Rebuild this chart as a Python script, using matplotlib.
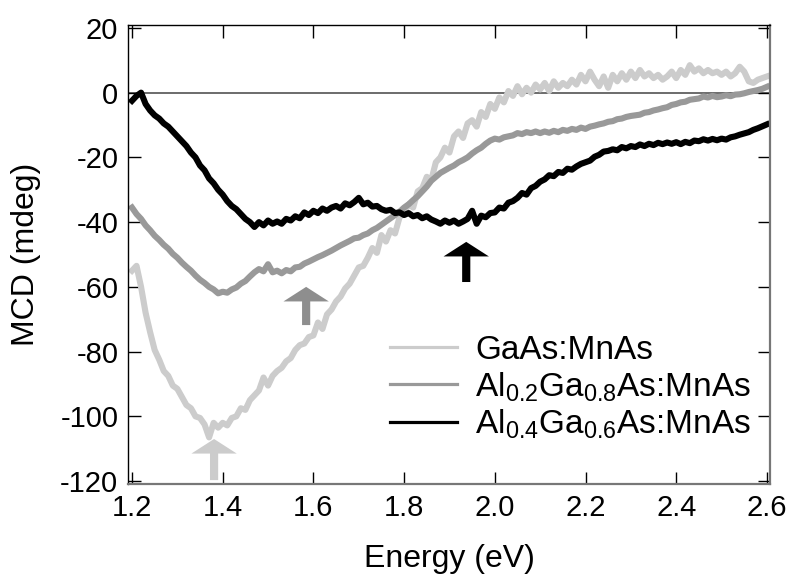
import numpy as np
import matplotlib.pyplot as plt
from matplotlib.lines import Line2D

plt.rcParams['font.family'] = ['Liberation Sans', 'DejaVu Sans']
plt.rcParams['mathtext.fontset'] = 'custom'
plt.rcParams['mathtext.rm'] = 'Liberation Sans'
plt.rcParams['axes.unicode_minus'] = False

# photon energy grid (eV), 0.01 eV step
energy = np.linspace(1.2, 2.6, 141)

# MCD spectra (mdeg)
mcd_gaas = [
    -55.0, -53.5, -60.0, -68.0, -74.0, -79.5, -82.5, -86.0, -87.5, -90.5,
    -91.5, -94.0, -96.5, -97.5, -100.0, -100.5, -102.5, -106.5, -102.0, -103.5,
    -102.0, -102.8, -100.5, -100.0, -97.5, -98.0, -95.0, -93.5, -92.0, -88.0,
    -90.5, -87.5, -86.0, -85.0, -83.0, -82.0, -79.5, -78.0, -77.5, -75.5,
    -75.0, -71.0, -73.0, -68.5, -67.0, -64.5, -63.0, -60.5, -59.0, -56.5,
    -54.0, -53.5, -51.0, -48.0, -49.5, -44.0, -46.0, -42.5, -43.5, -38.5,
    -37.0, -34.5, -35.5, -30.5, -29.5, -26.0, -27.0, -21.5, -20.0, -17.0,
    -18.5, -13.5, -12.0, -14.0, -9.5, -8.5, -10.5, -6.0, -7.5, -3.5,
    -5.0, -1.5, -3.0, 0.5, -1.0, 2.0, -0.5, 1.5, 0.0, 2.5,
    1.0, 3.0, 0.5, 3.5, 1.5, 3.0, 2.0, 4.0, 2.5, 5.5,
    3.5, 6.5, 4.0, 2.0, 5.0, 1.5, 5.5, 3.5, 6.0, 4.0,
    6.5, 4.5, 7.0, 5.0, 6.0, 4.5, 5.5, 4.0, 5.0, 6.5,
    4.5, 7.0, 5.5, 8.5, 6.5, 7.5, 6.0, 7.0, 6.0, 6.5,
    5.5, 6.5, 5.0, 6.0, 8.0, 6.5, 3.5, 3.0, 4.0, 4.5, 5.0,
]
mcd_al02 = [
    -35.5, -37.5, -39.0, -41.0, -42.5, -44.2, -45.5, -47.0, -48.2, -49.8,
    -51.0, -52.5, -53.8, -55.0, -56.5, -57.8, -58.8, -60.0, -60.8, -62.0,
    -61.5, -61.8, -60.8, -60.2, -59.0, -58.2, -56.8, -55.5, -54.5, -55.2,
    -53.0, -55.5, -55.0, -55.8, -54.8, -55.2, -54.0, -53.8, -52.8, -52.2,
    -51.5, -50.8, -50.2, -49.5, -48.8, -48.0, -47.2, -46.5, -45.8, -45.0,
    -44.8, -44.0, -43.5, -42.5, -41.8, -40.8, -39.8, -38.8, -37.8, -36.8,
    -35.5, -34.5, -33.2, -32.0, -30.5, -29.0, -27.2, -26.0, -24.8, -24.0,
    -23.2, -22.5, -21.5, -20.8, -20.0, -18.8, -17.8, -17.0, -15.8, -14.8,
    -14.2, -14.5, -13.8, -13.5, -13.2, -12.5, -12.8, -12.2, -12.5, -12.0,
    -12.5, -12.0, -12.4, -11.8, -12.2, -11.5, -11.8, -11.2, -11.5, -10.8,
    -11.2, -10.5, -10.2, -9.8, -9.5, -9.0, -8.8, -8.2, -8.0, -7.5,
    -7.2, -7.0, -6.8, -6.2, -6.0, -5.5, -5.2, -4.8, -4.5, -3.8,
    -3.5, -3.0, -2.8, -2.2, -2.0, -1.8, -1.2, -1.5, -1.0, -1.4,
    -1.2, -0.8, -1.1, -0.6, -0.5, -0.2, 0.2, 0.5, 0.8, 1.2, 1.8,
]
mcd_al04 = [
    -2.5, -1.0, 0.0, -3.5, -5.5, -7.0, -8.0, -9.5, -10.5, -12.0,
    -13.5, -15.0, -16.5, -18.5, -20.0, -22.5, -24.0, -26.5, -28.0, -30.0,
    -31.5, -33.5, -35.0, -36.0, -37.5, -39.0, -40.0, -41.5, -40.0, -41.0,
    -39.5, -40.5, -39.8, -40.5, -39.0, -39.5, -38.2, -38.8, -37.0, -37.8,
    -36.5, -37.2, -35.8, -36.5, -35.5, -35.0, -35.8, -34.2, -34.8, -33.8,
    -32.5, -34.5, -34.0, -35.2, -35.0, -36.0, -36.5, -36.2, -37.2, -37.0,
    -37.8, -37.2, -38.2, -37.8, -38.8, -38.2, -39.2, -39.8, -40.5, -39.5,
    -40.2, -39.5, -40.5, -39.8, -39.0, -36.5, -40.5, -38.0, -38.5, -37.2,
    -37.0, -35.5, -35.8, -34.0, -33.5, -32.5, -31.0, -31.5, -29.5, -28.8,
    -27.5, -26.8, -25.5, -25.8, -24.5, -24.8, -23.5, -23.8, -22.8, -22.0,
    -21.5, -21.0, -19.8, -19.2, -18.2, -18.0, -17.5, -17.8, -16.8, -17.2,
    -16.5, -16.8, -16.0, -16.5, -15.8, -16.2, -15.5, -15.9, -15.4, -15.8,
    -15.3, -15.9, -15.2, -15.6, -14.8, -15.0, -14.4, -14.8, -14.3, -14.7,
    -14.2, -14.5, -13.8, -13.5, -13.0, -12.6, -12.2, -11.5, -11.0, -10.4, -9.8,
]

labels = ['GaAs:MnAs',
          r'Al$_{\mathregular{0.2}}$Ga$_{\mathregular{0.8}}$As:MnAs',
          r'Al$_{\mathregular{0.4}}$Ga$_{\mathregular{0.6}}$As:MnAs']
colors = ['#cccccc', '#999999', '#000000']

# arrows marking the features: (energy, tail, tip)
arrow_x = [1.381, 1.584, 1.937]
arrow_tail = [-119.7, -71.8, -58.5]
arrow_tip = [-107.0, -60.0, -46.1]
arrow_colors = ['#cccccc', '#8e8e8e', '#000000']

fig = plt.figure(figsize=(7.9, 5.8), dpi=100)
ax = fig.add_axes([128 / 790, 1 - 484 / 580, 642 / 790, 459 / 580])

ax.axhline(0, color='#444444', linewidth=1.1, zorder=1)

for y, c in zip([mcd_gaas, mcd_al02, mcd_al04], colors):
    ax.plot(energy, y, color=c, linewidth=4.4, solid_joinstyle='round', zorder=2)

for x, t0, t1, c in zip(arrow_x, arrow_tail, arrow_tip, arrow_colors):
    ax.arrow(x, t0, 0, t1 - t0, width=0.018, head_width=0.1, head_length=4.5,
             length_includes_head=True, color=c, linewidth=0, zorder=3)

ax.set_xlim(1.1912, 2.6068)
ax.set_ylim(-120.9, 20.9)
ax.set_xticks([1.2, 1.4, 1.6, 1.8, 2.0, 2.2, 2.4, 2.6])
ax.set_xticklabels(['1.2', '1.4', '1.6', '1.8', '2.0', '2.2', '2.4', '2.6'])
ax.set_yticks([20, 0, -20, -40, -60, -80, -100, -120])

ax.tick_params(direction='in', top=True, right=True, length=9, width=1,
               labelsize=21, pad=7)
for side in ['left', 'top']:
    ax.spines[side].set_color('black')
    ax.spines[side].set_linewidth(1.0)
for side in ['right', 'bottom']:
    ax.spines[side].set_color('#777777')
    ax.spines[side].set_linewidth(1.6)

ax.set_xlabel('Energy (eV)', fontsize=23)
ax.set_ylabel('MCD (mdeg)', fontsize=23)
ax.xaxis.set_label_coords(0.5, -0.13)
ax.yaxis.set_label_coords(-0.135, 0.5)

handles = [Line2D([], [], color=c, linewidth=2.3) for c in colors]
ax.legend(handles, labels, loc='upper left',
          bbox_to_anchor=(390 / 790, 1 - 335 / 580),
          bbox_transform=fig.transFigure, frameon=False, fontsize=24,
          handlelength=2.0, handletextpad=0.55, labelspacing=0.12,
          borderpad=0, borderaxespad=0)

plt.savefig('out.png', dpi=100)
